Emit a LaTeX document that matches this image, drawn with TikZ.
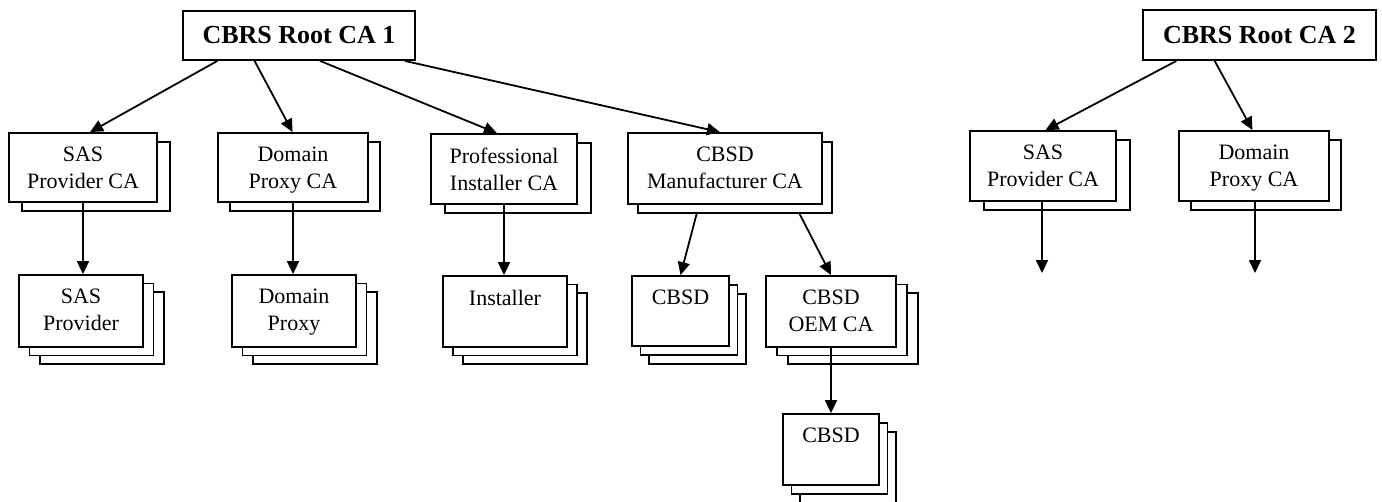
\documentclass[tikz,border=0pt]{standalone}
\usepackage{fontspec}
\setmainfont{Liberation Serif}
\usetikzlibrary{arrows.meta,calc}
\tikzset{
  box/.style={draw, line width=1.8pt, fill=white, rectangle, inner sep=0pt},
  lbl/.style={inner sep=0pt, align=center, font=\fontsize{22}{27}\selectfont, anchor=north},
  roottxt/.style={font=\fontsize{26}{30}\selectfont\bfseries},
  conn/.style={line width=1.8pt, -{Triangle[length=13pt,width=12pt]}},
}
% name, x1, y1, x2, y2, list of back layers, dx, dy
\newcommand\stk[8]{%
  \foreach \k in {#6}{%
    \node[box, minimum width={#4-#2}, minimum height={#5-#3}] (#1-b\k) at ({(#2+#4)/2+\k*#7},{(#3+#5)/2+\k*#8}) {};
  }%
  \node[box, minimum width={#4-#2}, minimum height={#5-#3}] (#1) at ({(#2+#4)/2},{(#3+#5)/2}) {};
}
\begin{document}
\begin{tikzpicture}[x=1pt, y=-1pt]
\useasboundingbox (0,0) rectangle (1382,501);
\clip (0,0) rectangle (1382,501);

% roots
\node[box, minimum width=232, minimum height=49, roottxt] (r1) at (299,35.5) {CBRS Root CA 1};
\node[box, minimum width=233, minimum height=50, roottxt] (r2) at (1259.5,35) {CBRS Root CA 2};

% tier 1
\stk{sasca}{9}{133}{157}{202}{1}{13}{9}
\stk{dpca}{218}{133}{368}{202}{1}{12}{9}
\stk{pica}{431}{134}{577}{204}{1}{14}{9}
\stk{mfca}{628}{133}{822}{204}{1}{10}{9}
\stk{sas2}{970}{131}{1116}{201}{1}{14}{9}
\stk{dp2}{1179}{131}{1329}{201}{1}{12}{9}

% tier 2
\stk{sasp}{19}{275}{143}{347}{2,1}{10.5}{8.5}
\stk{dpp}{232}{275}{356}{347}{2,1}{10.5}{8.5}
\stk{inst}{443}{276}{567}{347}{2,1}{10}{8.5}
\stk{cbsd1}{632}{276}{729}{346}{2,1}{8.5}{9}
\stk{oem}{766}{276}{896}{347}{2,1}{11}{8.5}

% tier 3
\stk{cbsd2}{783}{414}{879}{485}{2,1}{8.5}{9}

% labels
\node[lbl] (sasca-t) at ($(sasca.north)+(0,15)$) {SAS\\Provider CA};
\node[lbl] (dpca-t) at ($(dpca.north)+(0,15)$) {Domain\\Proxy CA};
\node[lbl] (pica-t) at ($(pica.north)+(0,15)$) {Professional\\Installer CA};
\node[lbl] (mfca-t) at ($(mfca.north)+(0,15)$) {CBSD\\Manufacturer CA};
\node[lbl] (sas2-t) at ($(sas2.north)+(0,15)$) {SAS\\Provider CA};
\node[lbl] (dp2-t) at ($(dp2.north)+(0,15)$) {Domain\\Proxy CA};
\node[lbl] (sasp-t) at ($(sasp.north)+(0,15)$) {SAS\\Provider};
\node[lbl] (dpp-t) at ($(dpp.north)+(0,15)$) {Domain\\Proxy};
\node[lbl] (inst-t) at ($(inst.north)+(0,15)$) {Installer};
\node[lbl] (cbsd1-t) at ($(cbsd1.north)+(0,15)$) {CBSD};
\node[lbl] (oem-t) at ($(oem.north)+(0,15)$) {CBSD\\OEM CA};
\node[lbl] (cbsd2-t) at ($(cbsd2.north)+(0,15)$) {CBSD};

% connectors from root 1
\draw[conn] ($(r1.south west)!0.151!(r1.south east)$) -- ($(sasca.north west)!0.547!(sasca.north east)$);
\draw[conn] ($(r1.south west)!0.31!(r1.south east)$) -- ($(dpca.north west)!0.497!(dpca.north east)$);
\draw[conn] ($(r1.south west)!0.59!(r1.south east)$) -- ($(pica.north west)!0.452!(pica.north east)$);
\draw[conn] ($(r1.south west)!0.953!(r1.south east)$) -- ($(mfca.north west)!0.474!(mfca.north east)$);

% connectors from root 2
\draw[conn] ($(r2.south west)!0.146!(r2.south east)$) -- ($(sas2.north west)!0.517!(sas2.north east)$);
\draw[conn] ($(r2.south west)!0.309!(r2.south east)$) -- ($(dp2.north west)!0.49!(dp2.north east)$);

% vertical connectors
\draw[conn] (sasca.south) -- (sasca.south |- sasp.north);
\draw[conn] (dpca.south) -- (dpca.south |- dpp.north);
\draw[conn] (pica.south) -- (pica.south |- inst.north);
\draw[conn] ($(mfca-b1.south west)!0.304!(mfca-b1.south east)$) -- (cbsd1.north);
\draw[conn] ($(mfca-b1.south west)!0.83!(mfca-b1.south east)$) -- (oem.north);
\draw[conn] (oem.south) -- (oem.south |- cbsd2.north);

% open-ended arrows under root 2 children
\coordinate (sas2end) at (1042,273);
\coordinate (dp2end) at (1255,273);
\draw[conn] (sas2.south -| sas2end) -- (sas2end);
\draw[conn] (dp2.south -| dp2end) -- (dp2end);
\end{tikzpicture}
\end{document}
